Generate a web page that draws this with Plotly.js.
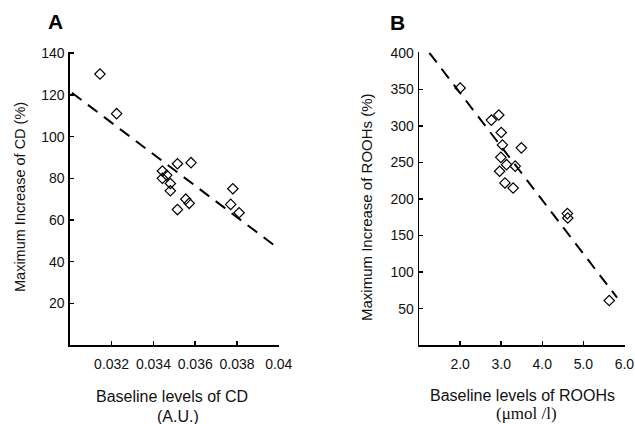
<!DOCTYPE html>
<html><head><meta charset="utf-8">
<script src="https://cdn.plot.ly/plotly-3.0.1.min.js"></script>
<style>html,body{margin:0;padding:0;background:#fff}#c{width:635px;height:424px}</style>
</head><body><div id="c"></div>
<script>
// Panel A: CD
const cdX = [0.03144, 0.03224, 0.03515, 0.0358, 0.03443, 0.03464, 0.03443, 0.03481, 0.03481, 0.03555, 0.03571, 0.03515, 0.0378, 0.0377, 0.0381];
const cdY = [130, 111, 87, 87.5, 83.5, 81.5, 80, 77.5, 74, 70, 68, 65, 75, 67.5, 63.5];
const cdFitX = [0.0301, 0.0399];
const cdFitY = [121, 47];
const cdXTicks = [0.032, 0.034, 0.036, 0.038, 0.04];
const cdXTickText = ['0.032', '0.034', '0.036', '0.038', '0.04'];
const cdYTicks = [20, 40, 60, 80, 100, 120, 140];

// Panel B: ROOHs
const rX = [2.0, 2.76, 2.94, 3.0, 3.03, 3.49, 2.99, 3.13, 3.34, 2.96, 3.09, 3.29, 4.61, 4.62, 5.63];
const rY = [352, 308, 315, 291, 274, 270, 257, 247, 245, 238, 222, 215, 180, 174, 61];
const rFitX = [1.25, 5.82];
const rFitY = [400, 65];
const rXTicks = [2, 3, 4, 5, 6];
const rXTickText = ['2.0', '3.0', '4.0', '5.0', '6.0'];
const rYTicks = [50, 100, 150, 200, 250, 300, 350, 400];

const FONT = 'Arial, "Liberation Sans", sans-serif';
const mk = {symbol: 'diamond-open', size: 8, color: '#000', line: {width: 1.2, color: '#000'}};
const dash = {color: '#000', width: 2, dash: '12px,8px'};

const traces = [
  {x: cdFitX, y: cdFitY, mode: 'lines', line: dash, xaxis: 'x', yaxis: 'y', hoverinfo: 'skip'},
  {x: cdX, y: cdY, mode: 'markers', marker: mk, xaxis: 'x', yaxis: 'y'},
  {x: rFitX, y: rFitY, mode: 'lines', line: dash, xaxis: 'x2', yaxis: 'y2', hoverinfo: 'skip'},
  {x: rX, y: rY, mode: 'markers', marker: mk, xaxis: 'x2', yaxis: 'y2'}
];

const axBase = {showgrid: false, zeroline: false, showline: true, linecolor: '#000', linewidth: 1.5,
  ticks: 'inside', ticklen: 4, tickcolor: '#000', tickwidth: 1.5, tickfont: {family: FONT, size: 14, color: '#111'},
  fixedrange: true, ticklabeloverflow: 'allow'};

const layout = {
  width: 635, height: 424, showlegend: false,
  margin: {l: 0, r: 0, t: 0, b: 0},
  paper_bgcolor: '#fff', plot_bgcolor: '#fff',
  xaxis: Object.assign({}, axBase, {domain: [0.110, 0.440], range: [0.030, 0.04003], tickvals: cdXTicks, ticktext: cdXTickText, anchor: 'y', ticklabelstandoff: 6}),
  yaxis: Object.assign({}, axBase, {domain: [0.186, 0.877], range: [0, 140.5], tickvals: cdYTicks, anchor: 'x', ticklabelstandoff: 1}),
  xaxis2: Object.assign({}, axBase, {domain: [0.660, 0.984], range: [1.0, 6.01], tickvals: rXTicks, ticktext: rXTickText, anchor: 'y2', ticklabelstandoff: 6}),
  yaxis2: Object.assign({}, axBase, {domain: [0.186, 0.877], range: [0, 401], tickvals: rYTicks, anchor: 'x2', ticklabelstandoff: 1}),
  annotations: [
    {text: '<b>A</b>', xref: 'paper', yref: 'paper', x: 55/635, y: 1 - 21/424, xanchor: 'center', yanchor: 'middle', showarrow: false, font: {family: FONT, size: 21, color: '#000'}},
    {text: '<b>B</b>', xref: 'paper', yref: 'paper', x: 397/635, y: 1 - 22/424, xanchor: 'center', yanchor: 'middle', showarrow: false, font: {family: FONT, size: 21, color: '#000'}},
    {text: 'Maximum Increase of CD (%)', xref: 'paper', yref: 'paper', x: 20/635, y: 1 - 197/424, xanchor: 'center', yanchor: 'middle', textangle: -90, showarrow: false, font: {family: FONT, size: 14.5, color: '#111'}},
    {text: 'Maximum Increase of ROOHs (%)', xref: 'paper', yref: 'paper', x: 366/635, y: 1 - 207/424, xanchor: 'center', yanchor: 'middle', textangle: -90, showarrow: false, font: {family: FONT, size: 15, color: '#111'}},
    {text: 'Baseline levels of CD', xref: 'paper', yref: 'paper', x: 172/635, y: 1 - 396/424, xanchor: 'center', yanchor: 'middle', showarrow: false, font: {family: FONT, size: 16, color: '#111'}},
    {text: '(A.U.)', xref: 'paper', yref: 'paper', x: 178/635, y: 1 - 416/424, xanchor: 'center', yanchor: 'middle', showarrow: false, font: {family: FONT, size: 16, color: '#111'}},
    {text: 'Baseline levels of ROOHs', xref: 'paper', yref: 'paper', x: 522/635, y: 1 - 395/424, xanchor: 'center', yanchor: 'middle', showarrow: false, font: {family: FONT, size: 16, color: '#111'}},
    {text: '(\u03bcmol /l)', xref: 'paper', yref: 'paper', x: 526/635, y: 1 - 413/424, xanchor: 'center', yanchor: 'middle', showarrow: false, font: {family: '"Liberation Serif", "Times New Roman", serif', size: 17, color: '#111'}}
  ]
};

Plotly.newPlot('c', traces, layout, {staticPlot: true, displayModeBar: false});
</script>
</body></html>
